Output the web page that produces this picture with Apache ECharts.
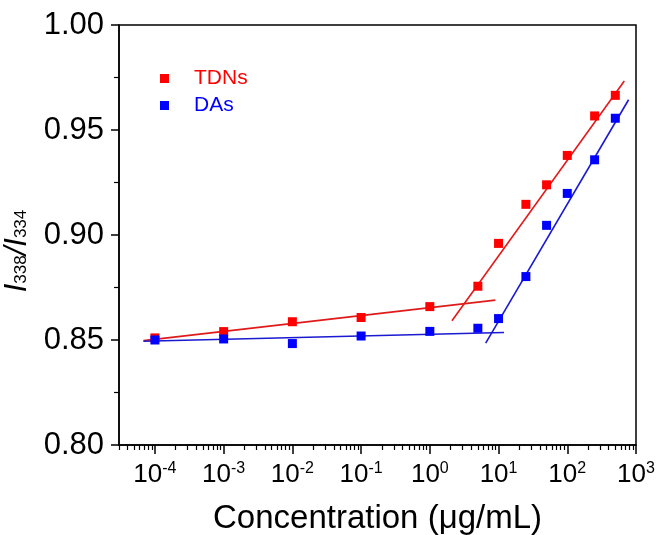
<!DOCTYPE html>
<html>
<head>
<meta charset="utf-8">
<script src="https://cdn.jsdelivr.net/npm/echarts@6/dist/echarts.min.js"></script>
<style>html,body{margin:0;padding:0;background:#fff}#c{width:657px;height:535px}</style>
</head>
<body>
<div id="c"></div>
<script>
// concentrations (µg/mL)
const concentrations = [1e-4, 1e-3, 1e-2, 1e-1, 1, 5, 10, 25, 50, 100, 250, 500];
// I338/I334 ratios
const tdnsValues = [0.851, 0.854, 0.8587, 0.8607, 0.8659, 0.8756, 0.8960, 0.9146, 0.9239, 0.9379, 0.9567, 0.9665];
const dasValues  = [0.850, 0.8505, 0.8483, 0.8519, 0.8541, 0.8556, 0.8602, 0.8802, 0.9046, 0.9198, 0.9358, 0.9556];
// fitted lines (end points)
const tdnsFitLow   = [[6.8e-5, 0.8497], [9.0, 0.8690]];
const tdnsFitHigh  = [[2.1, 0.8592], [676, 0.9733]];
const dasFitLow    = [[6.8e-5, 0.8494], [12, 0.8536]];
const dasFitHigh   = [[6.5, 0.8485], [780, 0.9644]];
// axis ticks
const xMajorTicks = [1e-4, 1e-3, 1e-2, 1e-1, 1, 10, 100, 1000];
const yTicks = [0.80, 0.85, 0.90, 0.95, 1.00];

const xMinorTicks = [];
for (let e = -5; e <= 2; e++) {
  for (let m = 2; m <= 9; m++) {
    const v = m * Math.pow(10, e);
    if (v > 3e-5 && v < 1000) xMinorTicks.push(v);
  }
}

const FONT = '"Liberation Sans", Arial, sans-serif';
const RED = '#ff0000', BLUE = '#0000ff';
const RED_LINE = '#e01a1a', BLUE_LINE = '#1a1ad0';

const chart = echarts.init(document.getElementById('c'), null, {renderer: 'canvas'});
const pair = (xs, ys) => xs.map((x, i) => [x, ys[i]]);

chart.setOption({
  animation: false,
  textStyle: {fontFamily: FONT},
  grid: {left: 119, top: 25, right: 21, bottom: 90, outerBoundsMode: 'none', containLabel: false,
         show: true, borderColor: '#000', borderWidth: 1.5, backgroundColor: 'transparent'},
  legend: {
    left: 155, top: 63, orient: 'vertical', itemWidth: 9, itemHeight: 9, itemGap: 6,
    icon: 'rect',
    textStyle: {fontFamily: FONT, fontSize: 21, padding: [0, 0, 0, 20]},
    data: [
      {name: 'TDNs', textStyle: {color: RED}},
      {name: 'DAs', textStyle: {color: BLUE}}
    ]
  },
  xAxis: [{
    type: 'log', logBase: 10, min: 3e-5, max: 1000,
    name: 'Concentration (μg/mL)', nameLocation: 'middle', nameGap: 57,
    nameTextStyle: {fontFamily: FONT, fontSize: 33, color: '#000'},
    axisLine: {lineStyle: {color: '#000', width: 1.5}},
    axisTick: {show: true, length: 9, lineStyle: {color: '#000', width: 1.5}, customValues: xMajorTicks},
    minorTick: {show: false},
    splitLine: {show: false},
    axisLabel: {
      customValues: xMajorTicks, margin: 16, color: '#000',
      formatter: v => '{b|10}{s|' + Math.round(Math.log10(v)) + '}',
      rich: {
        b: {fontFamily: FONT, fontSize: 26, color: '#000'},
        s: {fontFamily: FONT, fontSize: 16, color: '#000', verticalAlign: 'top', padding: [0, 0, 12, 0]}
      }
    }
  }, {
    type: 'log', logBase: 10, min: 3e-5, max: 1000, position: 'bottom',
    axisLine: {show: false},
    axisTick: {show: true, length: 5, lineStyle: {color: '#000', width: 1.2}, customValues: xMinorTicks},
    axisLabel: {show: false},
    splitLine: {show: false}
  }],
  yAxis: {
    type: 'value', min: 0.8, max: 1.0, interval: 0.05,
    name: '{i|I}{s|338}{i|/}{i|I}{s|334}', nameLocation: 'middle', nameGap: 73, nameRotate: 90,
    nameTextStyle: {
      padding: [0, 32, 0, 0],
      rich: {
        i: {fontFamily: FONT, fontSize: 31, fontStyle: 'italic', color: '#000'},
        s: {fontFamily: FONT, fontSize: 17, color: '#000', padding: [8, 0, 0, 0]}
      }
    },
    axisLine: {show: true, lineStyle: {color: '#000', width: 1.5}},
    axisTick: {show: true, length: 8, lineStyle: {color: '#000', width: 1.5}},
    minorTick: {show: true, splitNumber: 2, length: 5, lineStyle: {color: '#000', width: 1.2}},
    splitLine: {show: false},
    axisLabel: {fontFamily: FONT, fontSize: 31, color: '#000', margin: 15, formatter: v => v.toFixed(2)}
  },
  series: [
    {name: 'TDNs fit low', type: 'line', data: tdnsFitLow, showSymbol: false, symbol: 'none', lineStyle: {color: RED_LINE, width: 1.6}, z: 2},
    {name: 'TDNs fit high', type: 'line', data: tdnsFitHigh, showSymbol: false, symbol: 'none', lineStyle: {color: RED_LINE, width: 1.6}, z: 2},
    {name: 'DAs fit low', type: 'line', data: dasFitLow, showSymbol: false, symbol: 'none', lineStyle: {color: BLUE_LINE, width: 1.6}, z: 2},
    {name: 'DAs fit high', type: 'line', data: dasFitHigh, showSymbol: false, symbol: 'none', lineStyle: {color: BLUE_LINE, width: 1.6}, z: 2},
    {name: 'TDNs', type: 'scatter', symbol: 'rect', symbolSize: 9, itemStyle: {color: RED, opacity: 1}, data: pair(concentrations, tdnsValues), z: 3},
    {name: 'DAs', type: 'scatter', symbol: 'rect', symbolSize: 9, itemStyle: {color: BLUE, opacity: 1}, data: pair(concentrations, dasValues), z: 4}
  ]
});
</script>
</body>
</html>
